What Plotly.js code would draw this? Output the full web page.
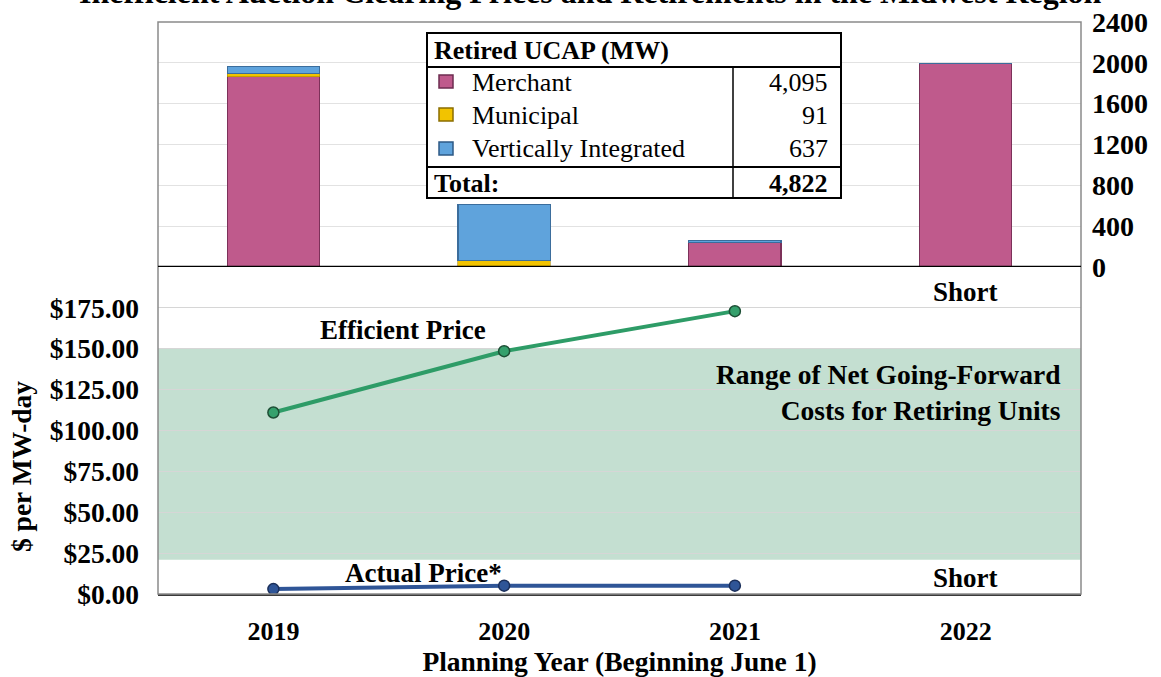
<!DOCTYPE html>
<html>
<head>
<meta charset="utf-8">
<script src="https://cdn.plot.ly/plotly-3.0.1.min.js"></script>
<style>
html,body{margin:0;padding:0;background:#fff;}
#chart{width:1161px;height:677px;}
</style>
</head>
<body>
<div id="chart"></div>
<script>
// ---------- data ----------
const years = ['2019', '2020', '2021', '2022'];
const merchantMW = [1865, 0, 240, 1990];
const municipalMW = [30, 61, 0, 0];
const vertIntMW = [70, 550, 17, 0];

const priceYears = ['2019', '2020', '2021'];
const efficientPrice = [111, 148.5, 173];
const actualPrice = [3, 5.1, 5.1];

const bandLow = 21;
const bandHigh = 150;

const priceTicks = [0, 25, 50, 75, 100, 125, 150, 175];
const priceTickText = ['$0.00', '$25.00', '$50.00', '$75.00', '$100.00', '$125.00', '$150.00', '$175.00'];
const mwTicks = [0, 400, 800, 1200, 1600, 2000, 2400];

const tableTitle = 'Retired UCAP (MW)';
const tableLabels = ['Merchant', 'Municipal', 'Vertically Integrated'];
const tableValues = ['4,095', '91', '637'];
const tableTotal = '4,822';

// ---------- style ----------
const FONT = 'Liberation Serif, Times New Roman, serif';
const cMerchant = '#BF5A8C';
const cMunicipal = '#F2C300';
const cVert = '#5FA3DC';

// layout geometry (plot pixels -> paper)
const L = 158, R = 80, T = 22, B = 83, W = 1161, H = 677;
const PW = W - L - R, PH = H - T - B;
const px = x => (x - L) / PW;
const py = y => (H - B - y) / PH;
const split = 327 / PH;

const traces = [
  {type: 'bar', name: 'Merchant', x: years, y: merchantMW, yaxis: 'y2', width: 0.4,
   marker: {color: cMerchant, line: {color: '#7C3159', width: 1.2}}},
  {type: 'bar', name: 'Municipal', x: years, y: municipalMW, yaxis: 'y2', width: 0.4,
   marker: {color: cMunicipal, line: {color: '#A88600', width: 0.6}}},
  {type: 'bar', name: 'Vertically Integrated', x: years, y: vertIntMW, yaxis: 'y2', width: 0.4,
   marker: {color: cVert, line: {color: '#3B6D9C', width: 1.2}}},
  {type: 'scatter', mode: 'lines+markers', name: 'Efficient Price', x: priceYears, y: efficientPrice,
   line: {color: '#2E9C67', width: 4},
   marker: {size: 11, color: '#35A06C', line: {color: '#1D4F35', width: 1.5}}},
  {type: 'scatter', mode: 'lines+markers', name: 'Actual Price*', x: priceYears, y: actualPrice,
   line: {color: '#2F5597', width: 4},
   marker: {size: 11, color: '#2F5597', line: {color: '#1B2F5A', width: 1.5}}}
];

const shapes = [
  {type: 'rect', xref: 'paper', yref: 'y', x0: 0, x1: 1, y0: bandLow, y1: bandHigh,
   fillcolor: '#C4DFD1', line: {width: 0}, layer: 'below'},
  {type: 'rect', xref: 'paper', yref: 'paper', x0: 0, x1: 1, y0: 0, y1: 1,
   line: {color: '#8A8A8A', width: 1.5}, fillcolor: 'rgba(0,0,0,0)'},
  {type: 'line', xref: 'paper', yref: 'y2', x0: 0, x1: 1, y0: 0, y1: 0,
   line: {color: '#000', width: 2.5}},
  {type: 'rect', xref: 'paper', yref: 'paper', x0: px(427), x1: px(841), y0: py(198), y1: py(33),
   line: {color: '#000', width: 2}, fillcolor: '#fff'},
  {type: 'line', xref: 'paper', yref: 'paper', x0: px(427), x1: px(841), y0: py(67), y1: py(67),
   line: {color: '#000', width: 2}},
  {type: 'line', xref: 'paper', yref: 'paper', x0: px(427), x1: px(841), y0: py(167), y1: py(167),
   line: {color: '#000', width: 2}},
  {type: 'line', xref: 'paper', yref: 'paper', x0: px(733), x1: px(733), y0: py(67), y1: py(198),
   line: {color: '#000', width: 1.5}}
];

const rowY = [82, 115, 149];
const swatch = [cMerchant, cMunicipal, cVert];
const swatchEdge = ['#6E2C50', '#8A6E00', '#2E5A85'];
rowY.forEach((yy, i) => {
  shapes.push({type: 'rect', xref: 'paper', yref: 'paper', x0: px(439), x1: px(453), y0: py(yy + 6), y1: py(yy - 7),
    fillcolor: swatch[i], line: {color: swatchEdge[i], width: 1.5}});
});

const ann = [];
const tfont = (s, bold) => ({family: FONT, size: s, color: '#000', weight: bold ? 'bold' : 'normal'});
ann.push({xref: 'paper', yref: 'paper', x: px(590), y: 1 + (T - 12) / PH, xanchor: 'center', yanchor: 'bottom',
  text: '<b>Inefficient Auction Clearing Prices and Retirements in the Midwest Region</b>', showarrow: false,
  font: tfont(32, true)});
ann.push({xref: 'paper', yref: 'paper', x: px(432), y: py(50), xanchor: 'left', yanchor: 'middle',
  text: '<b>' + tableTitle + '</b>', showarrow: false, font: tfont(26, true)});
tableLabels.forEach((t, i) => {
  ann.push({xref: 'paper', yref: 'paper', x: px(470), y: py(rowY[i]), xanchor: 'left', yanchor: 'middle',
    text: t, showarrow: false, font: tfont(26, false)});
  ann.push({xref: 'paper', yref: 'paper', x: px(830), y: py(rowY[i]), xanchor: 'right', yanchor: 'middle',
    text: tableValues[i], showarrow: false, font: tfont(26, false)});
});
ann.push({xref: 'paper', yref: 'paper', x: px(432), y: py(183), xanchor: 'left', yanchor: 'middle',
  text: '<b>Total:</b>', showarrow: false, font: tfont(26, true)});
ann.push({xref: 'paper', yref: 'paper', x: px(830), y: py(183), xanchor: 'right', yanchor: 'middle',
  text: '<b>' + tableTotal + '</b>', showarrow: false, font: tfont(26, true)});
ann.push({xref: 'x', yref: 'y', x: 0.563, y: 161.5, text: '<b>Efficient Price</b>', showarrow: false, font: tfont(27, true)});
ann.push({xref: 'x', yref: 'y', x: 0.649, y: 12.8, text: '<b>Actual Price*</b>', showarrow: false, font: tfont(27, true)});
ann.push({xref: 'x', yref: 'y', x: 3, y: 184.7, text: '<b>Short</b>', showarrow: false, font: tfont(27, true)});
ann.push({xref: 'x', yref: 'y', x: 3, y: 9.8, text: '<b>Short</b>', showarrow: false, font: tfont(27, true)});
ann.push({xref: 'paper', yref: 'y', x: px(1063), y: 123.2, xanchor: 'right', yanchor: 'middle', align: 'right',
  text: '<b>Range of Net Going-Forward<br>Costs for Retiring Units</b>', showarrow: false, font: tfont(27.5, true)});
ann.push({xref: 'paper', yref: 'paper', x: px(22), y: py(467), xanchor: 'center', yanchor: 'middle', textangle: -90,
  text: '<b>$ per MW-day</b>', showarrow: false, font: tfont(27.5, true)});

const layout = {
  width: W, height: H,
  margin: {l: L, r: R, t: T, b: B, pad: 0},
  paper_bgcolor: '#fff', plot_bgcolor: '#fff',
  barmode: 'stack',
  showlegend: false,
  font: {family: FONT, color: '#000'},
  xaxis: {
    type: 'category', categoryorder: 'array', categoryarray: years, range: [-0.5, 3.5],
    showline: true, linecolor: '#3A3A3A', linewidth: 2, mirror: false,
    showgrid: false, zeroline: false, ticks: '',
    ticklabelstandoff: 13,
    tickfont: {family: FONT, size: 26, color: '#000', weight: 'bold'},
    title: {text: '<b>Planning Year (Beginning June 1)</b>', standoff: 14,
            font: {family: FONT, size: 27.5, color: '#000', weight: 'bold'}},
    anchor: 'y', fixedrange: true
  },
  yaxis: {
    domain: [0, split], range: [0, 200],
    tickvals: priceTicks, ticktext: priceTickText,
    showgrid: true, gridcolor: '#D6D6D6', gridwidth: 1.2, zeroline: false,
    showline: false, ticks: '', ticklabelstandoff: 18,
    tickfont: {family: FONT, size: 27.5, color: '#000', weight: 'bold'},
    fixedrange: true
  },
  yaxis2: {
    domain: [split, 1], range: [0, 2400], anchor: 'x', side: 'right',
    tickvals: mwTicks,
    showgrid: true, gridcolor: '#E2E2E2', gridwidth: 1.2, zeroline: false,
    showline: false, ticks: '', ticklabelstandoff: 10,
    tickfont: {family: FONT, size: 28, color: '#000', weight: 'bold'},
    fixedrange: true
  },
  shapes: shapes,
  annotations: ann
};

Plotly.newPlot('chart', traces, layout, {displayModeBar: false, staticPlot: true});
</script>
</body>
</html>
